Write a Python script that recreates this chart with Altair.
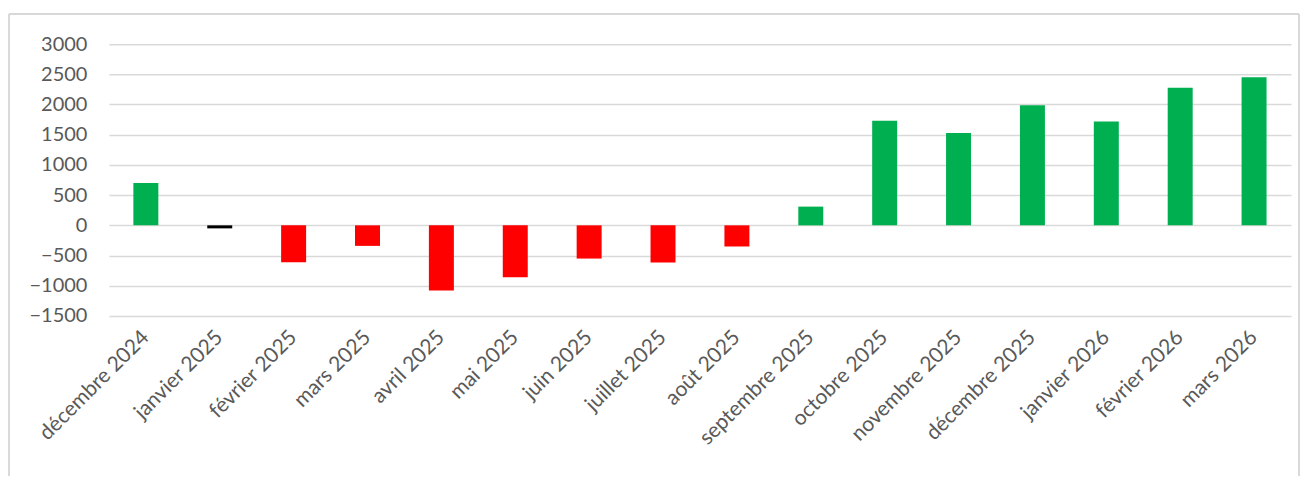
import altair as alt
import pandas as pd

mois = ["décembre 2024", "janvier 2025", "février 2025", "mars 2025", "avril 2025",
        "mai 2025", "juin 2025", "juillet 2025", "août 2025", "septembre 2025",
        "octobre 2025", "novembre 2025", "décembre 2025", "janvier 2026",
        "février 2026", "mars 2026"]
valeurs = [700, -50, -610, -340, -1080, -860, -550, -615, -350, 310,
           1730, 1530, 1990, 1720, 2280, 2450]
statut = ["hausse", "stable", "baisse", "baisse", "baisse", "baisse", "baisse",
          "baisse", "baisse", "hausse", "hausse", "hausse", "hausse", "hausse",
          "hausse", "hausse"]
y_ticks = [-1500, -1000, -500, 0, 500, 1000, 1500, 2000, 2500, 3000]

df = pd.DataFrame({"mois": mois, "valeur": valeurs, "statut": statut})

FONT = "Lato"
GRAY = "#595959"

bars = alt.Chart(df).mark_bar(size=25).encode(
    x=alt.X("mois:N", sort=mois, title=None,
            scale=alt.Scale(paddingInner=0, paddingOuter=0),
            axis=alt.Axis(labelAngle=-45, labelAlign="right", labelBaseline="middle",
                          labelPadding=18, ticks=False, domain=False, grid=False,
                          labelFont=FONT, labelFontSize=21, labelColor=GRAY,
                          labelOverlap=False)),
    y=alt.Y("valeur:Q", title=None,
            scale=alt.Scale(domain=[-1500, 3000], nice=False),
            axis=alt.Axis(values=y_ticks, format="d", ticks=False, domain=False,
                          gridColor="#d9d9d9", gridWidth=1.5,
                          labelFont=FONT, labelFontSize=20, labelColor=GRAY,
                          labelPadding=22)),
    color=alt.Color("statut:N", legend=None,
                    scale=alt.Scale(domain=["hausse", "baisse", "stable"],
                                    range=["#00B050", "#FF0000", "#000000"])),
)

border = alt.Chart(df).mark_rect(fill=None, stroke="#d9d9d9", strokeWidth=1).encode(
    x=alt.value(-100), x2=alt.value(1191), y=alt.value(-30), y2=alt.value(460)
)

chart = alt.layer(border, bars).properties(
    width=1183, height=272,
    autosize=alt.AutoSizeParams(type="none"),
    padding={"left": 101, "top": 36, "right": 10, "bottom": 160},
).configure_view(stroke=None)

chart.save("out.html", embed_options={"renderer": "svg", "actions": False})
